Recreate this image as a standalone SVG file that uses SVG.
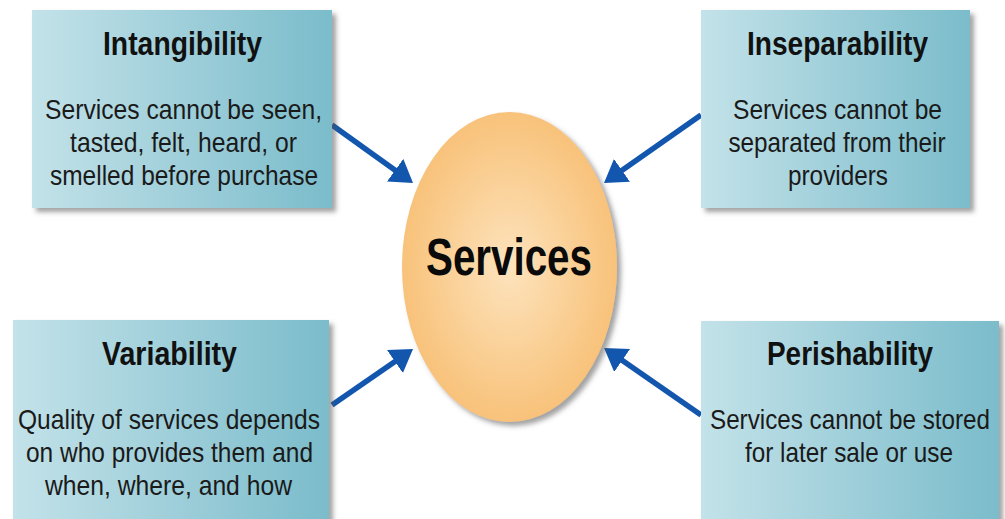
<svg xmlns="http://www.w3.org/2000/svg" width="1005" height="519" viewBox="0 0 1005 519">
  <style>
    .box { fill: url(#boxGrad); filter: url(#shadow); }
    .title { font-family: "Liberation Sans", Arial, sans-serif; font-weight: bold; font-size: 33px; fill: #111; text-anchor: middle; }
    .body { font-family: "Liberation Sans", Arial, sans-serif; font-size: 28px; fill: #1a1a1a; text-anchor: middle; }
    .center { font-family: "Liberation Sans", Arial, sans-serif; font-weight: bold; font-size: 51px; fill: #0a0a0a; text-anchor: middle; }
    .arrow { stroke: #1256ad; stroke-width: 5.5; fill: none; marker-end: url(#head); }
  </style>
  <defs>
    <linearGradient id="boxGrad" x1="0" y1="0" x2="1" y2="0">
      <stop offset="0" stop-color="#c3e2e9"/>
      <stop offset="1" stop-color="#7bbccb"/>
    </linearGradient>
    <radialGradient id="ovalGrad" cx="0.5" cy="0.5" r="0.5">
      <stop offset="0" stop-color="#fde3bd"/>
      <stop offset="1" stop-color="#f8c27a"/>
    </radialGradient>
    <filter id="shadow" x="-10%" y="-10%" width="125%" height="125%">
      <feDropShadow dx="4" dy="4" stdDeviation="2.5" flood-color="#555" flood-opacity="0.55"/>
    </filter>
    <marker id="head" viewBox="0 0 22 28" refX="12" refY="14" markerWidth="22" markerHeight="28" markerUnits="userSpaceOnUse" orient="auto">
      <path d="M0,0 L22,14 L0,28 z" fill="#1256ad"/>
    </marker>
  </defs>
  <rect width="1005" height="519" fill="#ffffff"/>

  <g id="connectors">
    <line class="arrow" x1="332" y1="125" x2="404.9" y2="177.2"/>
    <line class="arrow" x1="701" y1="115" x2="612.2" y2="177.3"/>
    <line class="arrow" x1="332" y1="405" x2="404.8" y2="354.7"/>
    <line class="arrow" x1="701" y1="415" x2="612.3" y2="353.6"/>
  </g>

  <g id="services">
    <ellipse cx="509.5" cy="267" rx="107.5" ry="155" fill="url(#ovalGrad)" filter="url(#shadow)"/>
    <text class="center" x="509" y="275" textLength="166" lengthAdjust="spacingAndGlyphs">Services</text>
  </g>

  <g id="intangibility">
    <rect class="box" x="32" y="10" width="300" height="198"/>
    <text class="title" x="182.5" y="55" textLength="159" lengthAdjust="spacingAndGlyphs">Intangibility</text>
    <text class="body" x="183.5" y="119" textLength="277" lengthAdjust="spacingAndGlyphs">Services cannot be seen,</text>
    <text class="body" x="183.5" y="152" textLength="227" lengthAdjust="spacingAndGlyphs">tasted, felt, heard, or</text>
    <text class="body" x="184" y="185" textLength="268" lengthAdjust="spacingAndGlyphs">smelled before purchase</text>
  </g>

  <g id="inseparability">
    <rect class="box" x="701" y="10" width="269" height="198"/>
    <text class="title" x="837.5" y="55" textLength="181" lengthAdjust="spacingAndGlyphs">Inseparability</text>
    <text class="body" x="837.5" y="119" textLength="209" lengthAdjust="spacingAndGlyphs">Services cannot be</text>
    <text class="body" x="837" y="152" textLength="217" lengthAdjust="spacingAndGlyphs">separated from their</text>
    <text class="body" x="838" y="185" textLength="100" lengthAdjust="spacingAndGlyphs">providers</text>
  </g>

  <g id="variability">
    <rect class="box" x="13" y="320" width="316" height="215"/>
    <text class="title" x="169.5" y="365" textLength="135" lengthAdjust="spacingAndGlyphs">Variability</text>
    <text class="body" x="169" y="429" textLength="302" lengthAdjust="spacingAndGlyphs">Quality of services depends</text>
    <text class="body" x="169.5" y="462" textLength="287" lengthAdjust="spacingAndGlyphs">on who provides them and</text>
    <text class="body" x="168.5" y="495" textLength="247" lengthAdjust="spacingAndGlyphs">when, where, and how</text>
  </g>

  <g id="perishability">
    <rect class="box" x="701" y="321" width="298" height="214"/>
    <text class="title" x="850" y="365" textLength="166" lengthAdjust="spacingAndGlyphs">Perishability</text>
    <text class="body" x="850" y="429" textLength="280" lengthAdjust="spacingAndGlyphs">Services cannot be stored</text>
    <text class="body" x="849" y="462" textLength="208" lengthAdjust="spacingAndGlyphs">for later sale or use</text>
  </g>
</svg>
